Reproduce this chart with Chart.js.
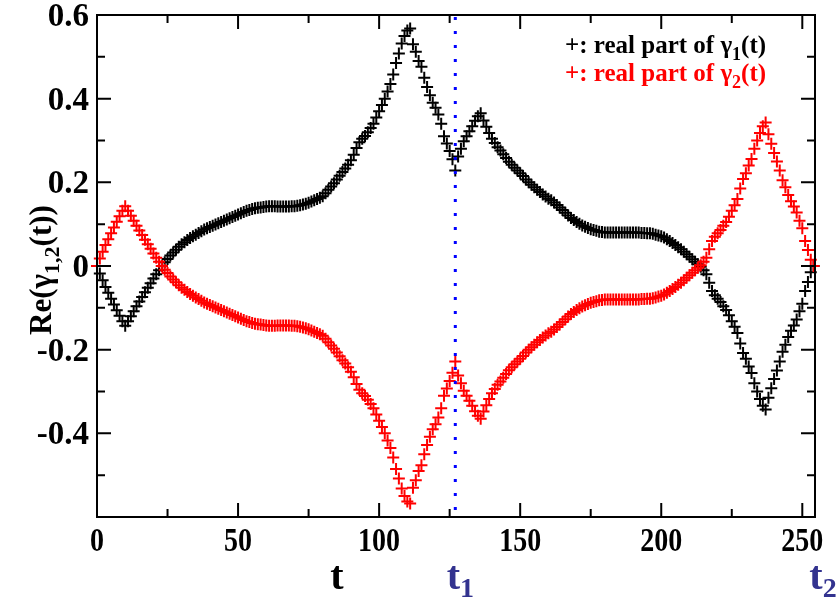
<!DOCTYPE html>
<html>
<head>
<meta charset="utf-8">
<script src="https://cdn.jsdelivr.net/npm/chart.js@4.4.0/dist/chart.umd.min.js"></script>
<style>
  html, body { margin: 0; padding: 0; background: #fff; }
  #wrap { width: 839px; height: 598px; }
</style>
</head>
<body>
<div id="wrap"><canvas id="myChart" width="839" height="598"></canvas></div>
<script>
// real part of gamma_1(t), t = 0..254 (black)
var gamma1 = [
  0.000, -0.018, -0.034, -0.050, -0.064, -0.078, -0.092, -0.106, -0.119, -0.132,
  -0.143, -0.132, -0.120, -0.108, -0.096, -0.085, -0.074, -0.063, -0.052, -0.041,
  -0.030, -0.020, -0.010, 0.000, 0.009, 0.017, 0.025, 0.032, 0.039, 0.046,
  0.052, 0.057, 0.062, 0.067, 0.071, 0.075, 0.079, 0.083, 0.087, 0.090,
  0.093, 0.096, 0.099, 0.102, 0.105, 0.108, 0.111, 0.114, 0.117, 0.120,
  0.123, 0.126, 0.129, 0.132, 0.134, 0.136, 0.138, 0.139, 0.140, 0.141,
  0.142, 0.143, 0.143, 0.143, 0.142, 0.142, 0.142, 0.142, 0.142, 0.143,
  0.143, 0.144, 0.145, 0.147, 0.149, 0.151, 0.154, 0.157, 0.160, 0.163,
  0.167, 0.174, 0.182, 0.190, 0.198, 0.207, 0.216, 0.225, 0.233, 0.242,
  0.253, 0.266, 0.282, 0.296, 0.304, 0.311, 0.320, 0.330, 0.340, 0.355,
  0.370, 0.385, 0.400, 0.417, 0.435, 0.458, 0.485, 0.508, 0.532, 0.550,
  0.563, 0.568, 0.530, 0.512, 0.490, 0.476, 0.450, 0.428, 0.408, 0.390,
  0.378, 0.362, 0.340, 0.310, 0.293, 0.275, 0.255, 0.228, 0.262, 0.280,
  0.298, 0.310, 0.322, 0.334, 0.347, 0.358, 0.365, 0.348, 0.333, 0.318,
  0.304, 0.294, 0.284, 0.276, 0.267, 0.258, 0.249, 0.242, 0.235, 0.228,
  0.222, 0.215, 0.207, 0.200, 0.194, 0.188, 0.182, 0.177, 0.171, 0.166,
  0.161, 0.157, 0.152, 0.146, 0.140, 0.134, 0.127, 0.121, 0.115, 0.110,
  0.105, 0.101, 0.097, 0.094, 0.091, 0.088, 0.086, 0.084, 0.082, 0.081,
  0.080, 0.080, 0.080, 0.080, 0.080, 0.080, 0.080, 0.080, 0.080, 0.080,
  0.080, 0.080, 0.080, 0.079, 0.079, 0.078, 0.078, 0.077, 0.075, 0.073,
  0.071, 0.068, 0.064, 0.060, 0.055, 0.050, 0.045, 0.040, 0.034, 0.028,
  0.022, 0.016, 0.010, 0.004, -0.002, -0.010, -0.020, -0.040, -0.060, -0.070,
  -0.078, -0.086, -0.096, -0.105, -0.118, -0.132, -0.145, -0.160, -0.185, -0.208,
  -0.222, -0.240, -0.256, -0.280, -0.300, -0.318, -0.334, -0.343, -0.315, -0.292,
  -0.270, -0.250, -0.228, -0.205, -0.188, -0.170, -0.155, -0.142, -0.128, -0.108,
  -0.090, -0.060, -0.038, -0.015, 0.000
];

// real part of gamma_2(t), t = 0..254 (red)
var gamma2 = [
  0.000, 0.018, 0.034, 0.050, 0.064, 0.078, 0.092, 0.106, 0.119, 0.132,
  0.143, 0.132, 0.120, 0.108, 0.096, 0.085, 0.074, 0.063, 0.052, 0.041,
  0.030, 0.020, 0.010, 0.000, -0.009, -0.017, -0.025, -0.032, -0.039, -0.046,
  -0.052, -0.057, -0.062, -0.067, -0.071, -0.075, -0.079, -0.083, -0.087, -0.090,
  -0.093, -0.096, -0.099, -0.102, -0.105, -0.108, -0.111, -0.114, -0.117, -0.120,
  -0.123, -0.126, -0.129, -0.132, -0.134, -0.136, -0.138, -0.139, -0.140, -0.141,
  -0.142, -0.143, -0.143, -0.143, -0.142, -0.142, -0.142, -0.142, -0.142, -0.143,
  -0.143, -0.144, -0.145, -0.147, -0.149, -0.151, -0.154, -0.157, -0.160, -0.163,
  -0.167, -0.174, -0.182, -0.190, -0.198, -0.207, -0.216, -0.225, -0.233, -0.242,
  -0.253, -0.266, -0.282, -0.296, -0.304, -0.311, -0.320, -0.330, -0.340, -0.355,
  -0.370, -0.385, -0.400, -0.417, -0.435, -0.458, -0.485, -0.508, -0.532, -0.550,
  -0.563, -0.568, -0.530, -0.512, -0.490, -0.476, -0.450, -0.428, -0.408, -0.390,
  -0.378, -0.362, -0.340, -0.310, -0.293, -0.275, -0.255, -0.228, -0.262, -0.280,
  -0.298, -0.310, -0.322, -0.334, -0.347, -0.358, -0.365, -0.348, -0.333, -0.318,
  -0.304, -0.294, -0.284, -0.276, -0.267, -0.258, -0.249, -0.242, -0.235, -0.228,
  -0.222, -0.215, -0.207, -0.200, -0.194, -0.188, -0.182, -0.177, -0.171, -0.166,
  -0.161, -0.157, -0.152, -0.146, -0.140, -0.134, -0.127, -0.121, -0.115, -0.110,
  -0.105, -0.101, -0.097, -0.094, -0.091, -0.088, -0.086, -0.084, -0.082, -0.081,
  -0.080, -0.080, -0.080, -0.080, -0.080, -0.080, -0.080, -0.080, -0.080, -0.080,
  -0.080, -0.080, -0.080, -0.079, -0.079, -0.078, -0.078, -0.077, -0.075, -0.073,
  -0.071, -0.068, -0.064, -0.060, -0.055, -0.050, -0.045, -0.040, -0.034, -0.028,
  -0.022, -0.016, -0.010, -0.004, 0.002, 0.010, 0.020, 0.040, 0.060, 0.070,
  0.078, 0.086, 0.096, 0.105, 0.118, 0.132, 0.145, 0.160, 0.185, 0.208,
  0.222, 0.240, 0.256, 0.280, 0.300, 0.318, 0.334, 0.343, 0.315, 0.292,
  0.270, 0.250, 0.228, 0.205, 0.188, 0.170, 0.155, 0.142, 0.128, 0.108,
  0.090, 0.060, 0.038, 0.015, 0.000
];

var xTicks = [0, 50, 100, 150, 200, 250];
var xMinor = [25, 75, 125, 175, 225];
var yTicks = [-0.6, -0.4, -0.2, 0, 0.2, 0.4, 0.6];
var yMinor = [-0.5, -0.3, -0.1, 0.1, 0.3, 0.5];
var yLabels = ['', '-0.4', '-0.2', '0', '0.2', '0.4', '0.6'];
var t1 = 127;
var t2 = 254.5;

var serif = '"Liberation Serif", "DejaVu Serif", serif';

function pts(arr) {
  return arr.map(function (v, i) { return { x: i, y: v }; });
}

// text with subscripts: parts = [[text, isSub], ...]
function subText(ctx, parts, x, y, size, subSize, drop, align) {
  var w = 0;
  parts.forEach(function (p) {
    ctx.font = 'bold ' + (p[1] ? subSize : size) + 'px ' + serif;
    w += ctx.measureText(p[0]).width;
  });
  var cx = align === 'center' ? x - w / 2 : x;
  ctx.textAlign = 'left';
  ctx.textBaseline = 'alphabetic';
  parts.forEach(function (p) {
    ctx.font = 'bold ' + (p[1] ? subSize : size) + 'px ' + serif;
    ctx.fillText(p[0], cx, p[1] ? y + drop : y);
    cx += ctx.measureText(p[0]).width;
  });
}

// tick label, optionally stretched vertically
function tickText(ctx, txt, x, y, size, sy, align) {
  ctx.save();
  ctx.translate(x, y);
  ctx.scale(1, sy);
  ctx.font = 'bold ' + size + 'px ' + serif;
  ctx.textAlign = align;
  ctx.textBaseline = 'alphabetic';
  ctx.fillStyle = '#000';
  ctx.fillText(txt, 0, 0);
  ctx.restore();
}

var decor = {
  id: 'decor',
  afterDatasetsDraw: function (chart) {
    var ctx = chart.ctx, a = chart.chartArea;
    var xs = chart.scales.x, ys = chart.scales.y;
    ctx.save();
    // dotted line at t1
    var px = xs.getPixelForValue(t1);
    ctx.strokeStyle = '#0000ff';
    ctx.lineWidth = 3;
    ctx.setLineDash([3, 11]);
    ctx.beginPath();
    ctx.moveTo(px, a.top + 2);
    ctx.lineTo(px, a.bottom);
    ctx.stroke();
    ctx.setLineDash([]);

    // frame
    ctx.strokeStyle = '#000';
    ctx.lineWidth = 2;
    ctx.strokeRect(a.left, a.top, a.right - a.left, a.bottom - a.top);

    // inward ticks on all sides
    function xt(vals, len) {
      vals.forEach(function (v) {
        var p = xs.getPixelForValue(v);
        ctx.beginPath();
        ctx.moveTo(p, a.bottom); ctx.lineTo(p, a.bottom - len);
        ctx.moveTo(p, a.top); ctx.lineTo(p, a.top + len);
        ctx.stroke();
      });
    }
    function yt(vals, len) {
      vals.forEach(function (v) {
        var p = ys.getPixelForValue(v);
        ctx.beginPath();
        ctx.moveTo(a.left, p); ctx.lineTo(a.left + len, p);
        ctx.moveTo(a.right, p); ctx.lineTo(a.right - len, p);
        ctx.stroke();
      });
    }
    xt(xTicks, 14); xt(xMinor, 8);
    yt(yTicks, 14); yt(yMinor, 8);

    // tick labels
    xTicks.forEach(function (v) {
      tickText(ctx, String(v), xs.getPixelForValue(v), a.bottom + 34, 28, 1.2, 'center');
    });
    yTicks.forEach(function (v, i) {
      tickText(ctx, yLabels[i], a.left - 8, ys.getPixelForValue(v) + 11, 33, 1, 'right');
    });

    // legend
    ctx.fillStyle = '#000';
    subText(ctx, [['+: real part of \u03b3', false], ['1', true], ['(t)', false]], 565, 53, 25, 18, 7, 'left');
    ctx.fillStyle = '#ff0000';
    subText(ctx, [['+: real part of \u03b3', false], ['2', true], ['(t)', false]], 565, 81, 25, 18, 7, 'left');

    // x title and t1/t2 marks
    ctx.fillStyle = '#000';
    subText(ctx, [['t', false]], 337, 589, 40, 28, 0, 'center');
    ctx.fillStyle = '#33338f';
    subText(ctx, [['t', false], ['1', true]], px + 5, 589, 40, 28, 8, 'center');
    subText(ctx, [['t', false], ['2', true]], 823, 589, 40, 28, 8, 'center');

    // y title
    ctx.fillStyle = '#000';
    ctx.translate(40, 270);
    ctx.rotate(-Math.PI / 2);
    subText(ctx, [['Re(\u03b3', false], ['1,2', true], ['(t))', false]], 0, 11, 31, 22, 8, 'center');
    ctx.restore();
  }
};

new Chart('myChart', {
  type: 'scatter',
  data: {
    datasets: [
      {
        label: 'real part of gamma2(t)',
        data: pts(gamma2),
        pointStyle: 'cross',
        pointRadius: 6,
        borderWidth: 2,
        borderColor: '#ff0000',
        backgroundColor: '#ff0000'
      },
      {
        label: 'real part of gamma1(t)',
        data: pts(gamma1),
        pointStyle: 'cross',
        pointRadius: 6,
        borderWidth: 2,
        borderColor: '#000000',
        backgroundColor: '#000000'
      }
    ]
  },
  options: {
    responsive: false,
    animation: false,
    clip: false,
    layout: { padding: { top: 15, right: 24, left: 0, bottom: 0 } },
    plugins: {
      legend: { display: false },
      tooltip: { enabled: false }
    },
    scales: {
      x: {
        type: 'linear',
        min: 0,
        max: t2,
        afterFit: function (s) { s.height = 81; },
        grid: { display: false, drawTicks: false },
        border: { display: false },
        ticks: { display: false, stepSize: 50 }
      },
      y: {
        min: -0.6,
        max: 0.6,
        afterFit: function (s) { s.width = 97; },
        grid: { display: false, drawTicks: false },
        border: { display: false },
        ticks: { display: false, stepSize: 0.2 }
      }
    }
  },
  plugins: [decor]
});
</script>
</body>
</html>
